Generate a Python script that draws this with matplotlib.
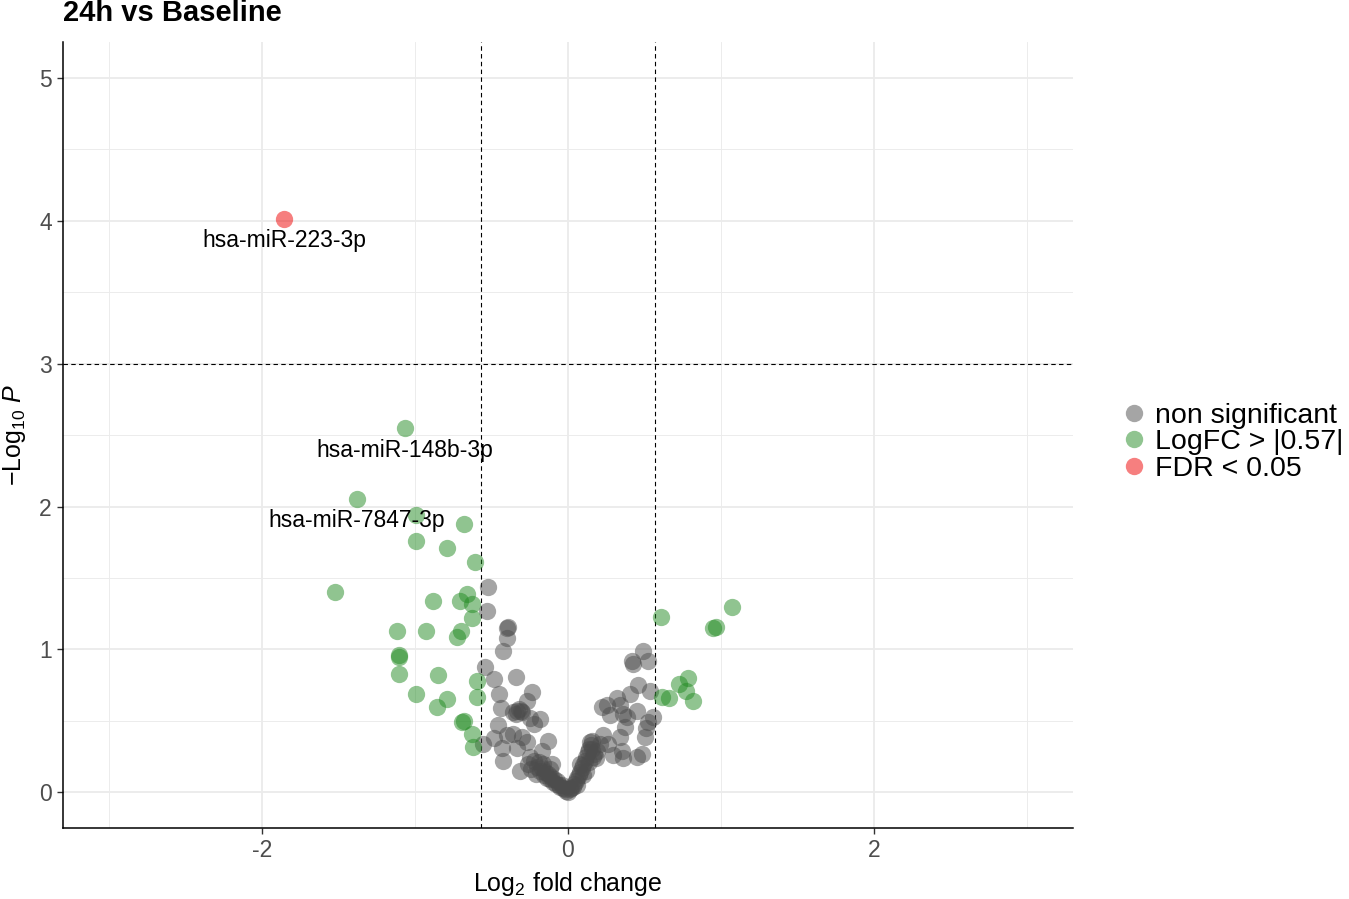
import matplotlib
matplotlib.use("Agg")
import matplotlib.pyplot as plt
from matplotlib.ticker import MultipleLocator
from matplotlib.lines import Line2D

plt.rcParams['font.family'] = ['Liberation Sans', 'DejaVu Sans']
plt.rcParams['mathtext.fontset'] = 'custom'
plt.rcParams['mathtext.rm'] = 'Liberation Sans'
plt.rcParams['mathtext.it'] = 'Liberation Sans:italic'
plt.rcParams['axes.unicode_minus'] = False

title = "24h vs Baseline"
categories = ["non significant", "LogFC > |0.57|", "FDR < 0.05"]

# non significant points: (log2FC, -log10 P)
ns_x = [-0.523, -0.529, -0.392, -0.399, -0.399, -0.425, -0.542, -0.484, -0.340, -0.451,
        -0.235, -0.268, -0.438, -0.333, -0.301, -0.359, -0.320, -0.183, -0.222, -0.458,
        -0.556, -0.484, -0.399, -0.359, -0.301, -0.268, -0.131, -0.431, -0.333, -0.425,
        -0.314, -0.248, -0.170, -0.163, -0.105, -0.340, -0.310, -0.250,
        -0.22, -0.20, -0.19, -0.18, -0.17, -0.16, -0.15, -0.14, -0.13, -0.12, -0.11,
        -0.10, -0.09, -0.08, -0.07, -0.06, -0.05, -0.04, -0.03, -0.02, -0.01, 0.00,
        -0.24, -0.21, -0.26, -0.12,
        0.01, 0.02, 0.03, 0.04, 0.05, 0.06, 0.07, 0.08, 0.09, 0.10, 0.11, 0.12, 0.13,
        0.14, 0.15, 0.16, 0.17, 0.18, 0.10, 0.12, 0.08, 0.14, 0.06, 0.16, 0.19,
        0.490, 0.523, 0.418, 0.425, 0.458, 0.405, 0.536, 0.320, 0.255, 0.222, 0.340,
        0.451, 0.275, 0.359, 0.386, 0.556, 0.523, 0.373, 0.510, 0.503, 0.229, 0.340,
        0.261, 0.144, 0.209, 0.353, 0.484, 0.451, 0.294, 0.359, 0.163]
ns_y = [1.44, 1.27, 1.16, 1.15, 1.08, 0.99, 0.88, 0.79, 0.81, 0.69,
        0.70, 0.64, 0.59, 0.57, 0.56, 0.56, 0.58, 0.51, 0.48, 0.47,
        0.34, 0.38, 0.40, 0.41, 0.39, 0.35, 0.36, 0.31, 0.31, 0.22,
        0.15, 0.25, 0.29, 0.20, 0.20, 0.55, 0.57, 0.52,
        0.22, 0.18, 0.21, 0.15, 0.17, 0.12, 0.14, 0.10, 0.13, 0.09, 0.11,
        0.07, 0.09, 0.06, 0.08, 0.05, 0.04, 0.05, 0.03, 0.02, 0.01, 0.00,
        0.16, 0.13, 0.20, 0.16,
        0.02, 0.03, 0.04, 0.06, 0.08, 0.10, 0.12, 0.14, 0.17, 0.19, 0.22, 0.25, 0.28,
        0.30, 0.33, 0.30, 0.27, 0.24, 0.12, 0.15, 0.20, 0.21, 0.05, 0.36, 0.29,
        0.99, 0.92, 0.92, 0.90, 0.75, 0.69, 0.71, 0.66, 0.61, 0.60, 0.61,
        0.57, 0.54, 0.55, 0.53, 0.53, 0.49, 0.46, 0.45, 0.39, 0.40, 0.39,
        0.34, 0.35, 0.34, 0.29, 0.27, 0.25, 0.26, 0.24, 0.25]

# LogFC > |0.57| points
fc_x = [-1.065, -1.379, -0.993, -0.680, -0.993, -0.791, -0.608, -1.523, -0.660, -0.706,
        -0.627, -0.882, -0.627, -1.118, -0.699, -0.928, -0.725, -1.105, -1.105, -1.105,
        -0.850, -0.595, -0.993, -0.791, -0.595, -0.856, -0.693, -0.680, -0.627, -0.621,
        0.608, 1.072, 0.948, 0.967, 0.784, 0.725, 0.771, 0.817, 0.614, 0.660]
fc_y = [2.55, 2.05, 1.94, 1.88, 1.76, 1.71, 1.61, 1.40, 1.39, 1.34,
        1.32, 1.34, 1.22, 1.13, 1.13, 1.13, 1.09, 0.96, 0.95, 0.83,
        0.82, 0.78, 0.69, 0.65, 0.67, 0.60, 0.49, 0.50, 0.41, 0.32,
        1.23, 1.30, 1.15, 1.16, 0.80, 0.76, 0.71, 0.64, 0.67, 0.66]

# FDR < 0.05 points
sig_x = [-1.856]
sig_y = [4.01]

label_names = ["hsa-miR-223-3p", "hsa-miR-148b-3p", "hsa-miR-7847-3p"]
label_x = [-1.856, -1.065, -1.379]
label_y = [3.86, 2.39, 1.90]

fc_cut = 0.57
p_cut = 3.0

colors = ['#4d4d4d', '#228b22', '#ee0000']

fig = plt.figure(figsize=(13.49, 8.99), dpi=100)
ax = fig.add_axes([0.0467, 0.079, 0.7487, 0.874])

msize = 155
ax.scatter(ns_x, ns_y, s=msize, c=colors[0], alpha=0.5, linewidths=0, zorder=3)
ax.scatter(fc_x, fc_y, s=msize, c=colors[1], alpha=0.5, linewidths=0, zorder=3)
ax.scatter(sig_x, sig_y, s=msize, c=colors[2], alpha=0.5, linewidths=0, zorder=3)

for name, lx, ly in zip(label_names, label_x, label_y):
    ax.text(lx, ly, name, ha='center', va='center', fontsize=16.5, color='black', zorder=4)

ax.axvline(-fc_cut, color='black', ls=(0, (4, 3)), lw=0.8, zorder=2)
ax.axvline(fc_cut, color='black', ls=(0, (4, 3)), lw=0.8, zorder=2)
ax.axhline(p_cut, color='black', ls=(0, (4, 3)), lw=0.8, zorder=2)

ax.set_xlim(-3.30, 3.30)
ax.set_ylim(-0.25, 5.25)
ax.xaxis.set_major_locator(MultipleLocator(2))
ax.xaxis.set_minor_locator(MultipleLocator(1))
ax.yaxis.set_major_locator(MultipleLocator(1))
ax.yaxis.set_minor_locator(MultipleLocator(0.5))
ax.grid(which='major', color='#ebebeb', lw=1.3, zorder=0)
ax.grid(which='minor', color='#ebebeb', lw=0.65, zorder=0)
ax.set_axisbelow(True)

for s in ['top', 'right']:
    ax.spines[s].set_visible(False)
for s in ['left', 'bottom']:
    ax.spines[s].set_color('black')
    ax.spines[s].set_linewidth(1.1)

ax.tick_params(which='major', length=4, width=1.0, color='#333333', labelsize=16.5,
               labelcolor='#4d4d4d', pad=4)
ax.tick_params(which='minor', length=0)

ax.set_xlabel(r'$\mathrm{Log}_{2}$ fold change', fontsize=18, labelpad=6)
ax.set_ylabel(r'$-\mathrm{Log}_{10}\ \mathit{P}$', fontsize=18, labelpad=8)

fig.text(0.047, 0.986, title, fontsize=21, fontweight='bold', ha='left', va='center')

handles = [Line2D([0], [0], marker='o', ls='', markersize=12.5, markerfacecolor=c,
                  markeredgewidth=0, alpha=0.5) for c in colors]
ax.legend(handles, categories, loc='center left', bbox_to_anchor=(1.035, 0.491),
          frameon=False, fontsize=20.5, handletextpad=0.25, labelspacing=0.02,
          borderaxespad=0, handlelength=1.0)

fig.savefig('out.png', dpi=100)
